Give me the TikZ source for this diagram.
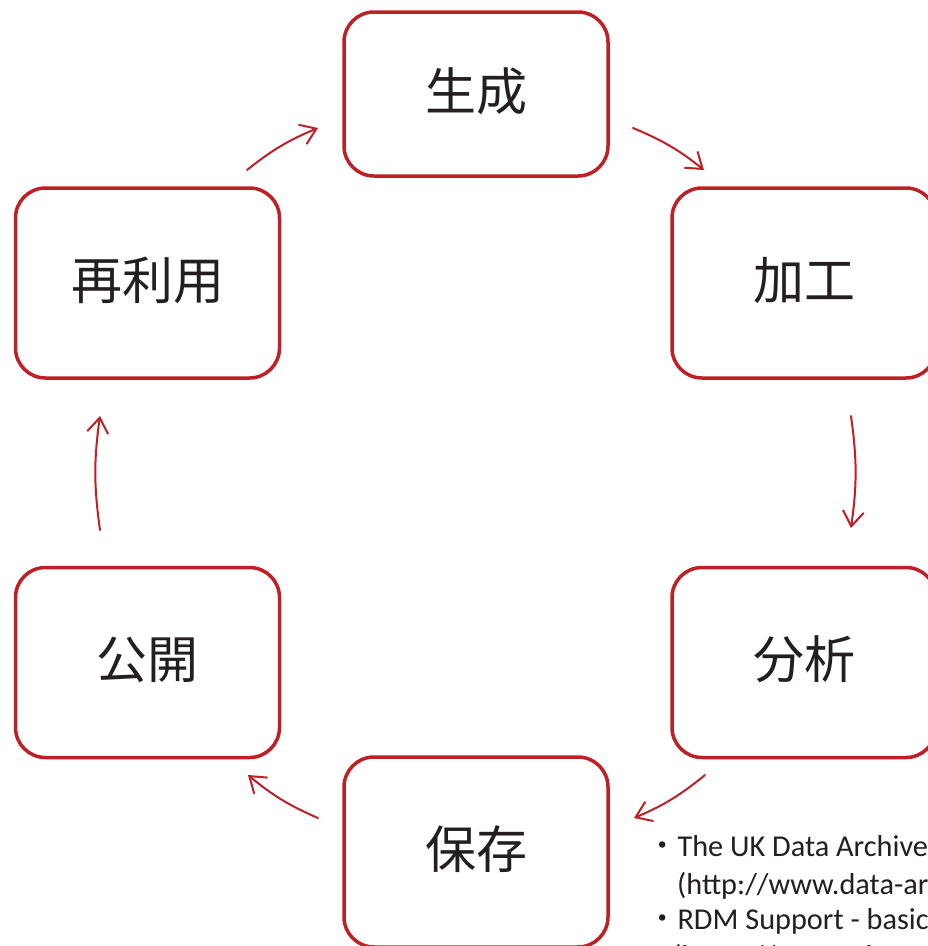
\documentclass[tikz,border=0pt]{standalone}
\usepackage{fontspec}
\setmainfont{Carlito}
\newfontfamily\cjk{Noto Sans CJK JP}
\usetikzlibrary{arrows.meta}
\definecolor{boxred}{RGB}{190,32,38}
\definecolor{ink}{RGB}{35,31,32}
\newcommand{\stagelabel}[1]{\raisebox{10pt}{#1}}
\tikzset{
  stagebox/.style={draw=boxred, line width=3.5pt, rounded corners=30pt, fill=white,
    minimum width=264pt, inner sep=0pt, text=ink,
    font=\cjk\fontsize{51}{58}\selectfont},
  cyc/.style={draw=boxred, line width=2pt, line cap=round,
    -{Straight Barb[length=15pt,width=21pt,line width=2pt]}, bend left=8},
  reftext/.style={anchor=base west, inner sep=0pt, text=ink, font=\fontsize{30.3}{36}\selectfont}
}
\begin{document}
\begin{tikzpicture}[x=1pt,y=1pt]
\useasboundingbox (0,0) rectangle (928,-946);
\clip (0,0) rectangle (928,-946);
\fill[white] (0,0) rectangle (928,-946);

\node[stagebox, minimum height=164pt] (gen) at (476,-94) {\stagelabel{生成}};
\node[stagebox, minimum height=190pt] (proc) at (804,-283) {\stagelabel{加工}};
\node[stagebox, minimum height=190pt] (reuse) at (147.5,-283) {\stagelabel{再利用}};
\node[stagebox, minimum height=190pt] (pub) at (147.5,-662.5) {\stagelabel{公開}};
\node[stagebox, minimum height=190pt] (ana) at (804,-662.5) {\stagelabel{分析}};
\node[stagebox, minimum height=190pt] (store) at (476,-852) {\stagelabel{保存}};

\coordinate (a1s) at (247,-170); \coordinate (a1e) at (318,-128);
\coordinate (a2s) at (633,-128); \coordinate (a2e) at (704,-170);
\coordinate (a3s) at (851,-416); \coordinate (a3e) at (851,-528);
\coordinate (a4s) at (705,-775); \coordinate (a4e) at (634,-818);
\coordinate (a5s) at (318,-818); \coordinate (a5e) at (248,-775);
\coordinate (a6s) at (100,-530); \coordinate (a6e) at (100,-416);

\draw[cyc] (a1s) to (a1e);
\draw[cyc] (a2s) to (a2e);
\draw[cyc] (a3s) to (a3e);
\draw[cyc] (a4s) to (a4e);
\draw[cyc] (a5s) to (a5e);
\draw[cyc] (a6s) to (a6e);

\node[reftext] (r1) at (647,-856) {{\cjk ・}The UK Data Archive};
\node[reftext] (r2) at (677,-894) {(http://www.data-archive.ac.uk/)};
\node[reftext] (r3) at (647,-929) {{\cjk ・}RDM Support - basics};
\node[reftext] (r4) at (672,-966) {(https://www.rdm.support/)};
\end{tikzpicture}
\end{document}
